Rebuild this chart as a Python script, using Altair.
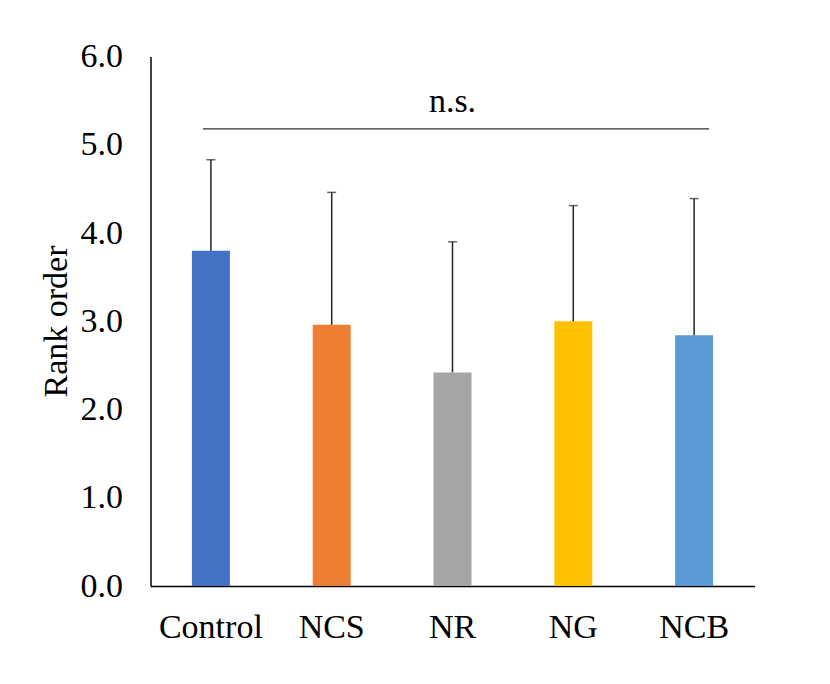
import altair as alt
import pandas as pd

categories = ["Control", "NCS", "NR", "NG", "NCB"]
means = [3.80, 2.96, 2.42, 3.00, 2.84]
sds = [1.03, 1.50, 1.48, 1.31, 1.55]
colors = ["#4472C4", "#ED7D31", "#A5A5A5", "#FFC000", "#5B9BD5"]
y_ticks = [0, 1, 2, 3, 4, 5, 6]
ns_label = "n.s."
ns_line_value = 5.18
ns_text_value = 5.37

df = pd.DataFrame({"group": categories, "mean": means, "sd": sds})
df["upper"] = df["mean"] + df["sd"]

FONT = "Liberation Serif"
FS = 34

x_scale = alt.Scale(domain=categories, paddingInner=0, paddingOuter=0)
y_scale = alt.Scale(domain=[0, 6], nice=False, zero=True)

x_enc = alt.X(
    "group:N",
    scale=x_scale,
    sort=categories,
    axis=alt.Axis(
        title=None, labelAngle=0, ticks=False, tickSize=0, labelPadding=24,
        labelFont=FONT, labelFontSize=FS, labelColor="black",
        domainColor="black", domainWidth=1.5, grid=False,
    ),
)

bars = alt.Chart(df).mark_bar(size=38).encode(
    x=x_enc,
    y=alt.Y(
        "mean:Q",
        scale=y_scale,
        axis=alt.Axis(
            title="Rank order", values=y_ticks, format=".1f", ticks=False, tickSize=0,
            labelPadding=28, labelFont=FONT, labelFontSize=FS, labelColor="black",
            titleFont=FONT, titleFontSize=FS, titleFontWeight="normal", titleColor="black",
            titleAngle=270, titleX=-84, titleY=264.5, titleBaseline="alphabetic",
            titleAlign="center", domainColor="black", domainWidth=1.5, grid=False,
        ),
    ),
    color=alt.Color("group:N", scale=alt.Scale(domain=categories, range=colors), legend=None),
)

err = alt.Chart(df).mark_rule(color="#262626", strokeWidth=1.5).encode(
    x=alt.X("group:N", scale=x_scale, sort=categories),
    y=alt.Y("mean:Q", scale=y_scale),
    y2="upper:Q",
)

caps = alt.Chart(df).mark_tick(color="#262626", thickness=1.5, size=9, orient="horizontal").encode(
    x=alt.X("group:N", scale=x_scale, sort=categories),
    y=alt.Y("upper:Q", scale=y_scale),
)

ns_df = pd.DataFrame({"start": [categories[0]], "end": [categories[-1]], "y": [ns_line_value]})
ns_line = alt.Chart(ns_df).mark_rule(color="#333333", strokeWidth=1.3).encode(
    x=alt.X("start:N", scale=x_scale, bandPosition=0.434),
    x2=alt.X2("end:N", bandPosition=0.624),
    y=alt.Y("y:Q", scale=y_scale),
)

ns_text_df = pd.DataFrame({"g": [categories[2]], "y": [ns_text_value], "t": [ns_label]})
ns_text = alt.Chart(ns_text_df).mark_text(
    font=FONT, fontSize=FS, color="black", baseline="alphabetic", align="center"
).encode(
    x=alt.X("g:N", scale=x_scale),
    y=alt.Y("y:Q", scale=y_scale),
    text="t:N",
)

chart = (
    alt.layer(bars, err, caps, ns_line, ns_text)
    .properties(
        width=604,
        height=529.5,
        autosize=alt.AutoSizeParams(type="none"),
        padding={"left": 142.5, "top": 48.5, "right": 60, "bottom": 90},
        background="white",
    )
    .configure(font=FONT)
    .configure_axis(labelFont=FONT, titleFont=FONT, labelFontSize=FS, titleFontSize=FS)
    .configure_text(font=FONT)
    .configure_view(stroke=None)
)

chart.save("out.html", embed_options={"renderer": "svg", "actions": False})
